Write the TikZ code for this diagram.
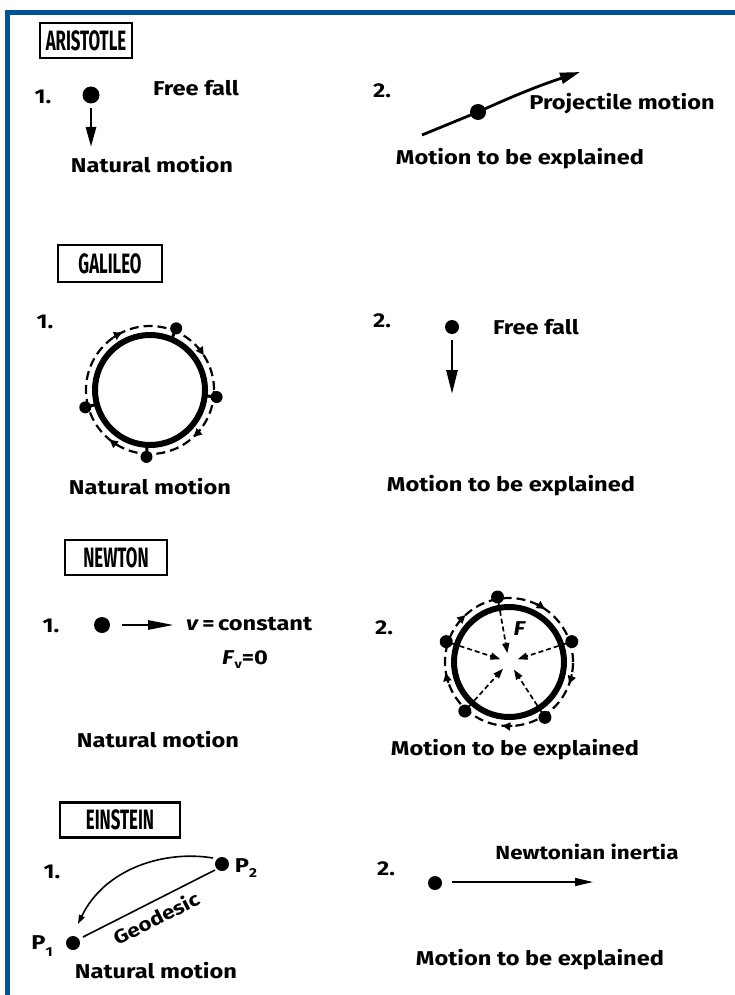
\documentclass[tikz,border=0pt]{standalone}
\usepackage{fontspec}
\usepackage{graphicx}
\setmainfont{Fira Sans}
\newfontfamily\handfont[FakeStretch=1.18]{Fira Sans}
\newfontfamily\boxfont[FakeStretch=0.6]{Fira Sans}
\usetikzlibrary{arrows.meta,calc}
\definecolor{frameblue}{RGB}{0,84,150}
\begin{document}
\begin{tikzpicture}[x=1pt,y=1pt,
  txt/.style={inner sep=0pt, font=\handfont\bfseries\fontsize{20}{23}\selectfont},
  smalltxt/.style={inner sep=0pt, font=\handfont\bfseries\fontsize{19}{22}\selectfont},
  titlebox/.style={draw, line width=2.2pt, inner sep=0pt, font=\boxfont\bfseries\fontsize{28}{30}\selectfont},
  bigdot/.style={circle, fill, inner sep=0pt, minimum size=17pt},
  dot/.style={circle, fill, inner sep=0pt, minimum size=14pt},
  cdot/.style={circle, fill, inner sep=0pt, minimum size=12pt},
  heavy/.style={line width=2.8pt},
  bighead/.style={-{Triangle[length=20pt,width=10pt]}},
  ringsolid/.style={line width=6pt},
  ringdash/.style={line width=2.2pt, dash pattern=on 9pt off 5pt},
  ringhead/.style={line width=2pt, -{Triangle[length=8pt,width=8pt]}},
  force/.style={line width=1.7pt, dash pattern=on 5pt off 3pt, -{Triangle[length=10pt,width=7pt]}},
]
\useasboundingbox (0,0) rectangle (734,-995);
\fill[white] (0,0) rectangle (734,-995);
\draw[frameblue, line width=5pt] (7,-995) -- (7,-12.5) -- (736,-12.5);

% ---------------- ARISTOTLE ----------------
\node[titlebox, minimum width=92pt, minimum height=35pt] (tA) at (86,-40.5) {ARISTOTLE};
\node[txt] (a1n) at (43,-97) {1.};
\node[bigdot] (a1d) at (91,-95) {};
\coordinate (a1e) at (91,-147);
\draw[heavy, bighead, shorten <=4pt] (a1d) -- (a1e);
\node[txt] (a1f) at (196,-88) {Free fall};
\node[txt] (a1m) at (152,-165) {Natural motion};

\node[txt] (a2n) at (382,-91) {2.};
\coordinate (a2s) at (422,-135);
\node[dot, minimum size=16pt] (a2d) at (478,-112) {};
\coordinate (a2e) at (580,-72);
\draw[heavy] (a2s) -- (a2d.center);
\draw[heavy, -{Triangle[length=20pt,width=11pt]}] (a2d.center) to[bend left=3] (a2e);
\node[txt] (a2p) at (622,-104) {Projectile motion};
\node[txt] (a2m) at (520,-159) {Motion to be explained};

% ---------------- GALILEO ----------------
\node[titlebox, minimum width=104pt, minimum height=37pt] (tG) at (110,-263.5) {GALILEO};
\node[txt] (g1n) at (45,-322) {1.};
\coordinate (gc) at (150,-390);
\draw[ringsolid] (gc) circle[radius=55];
\draw[ringdash] (gc) circle[radius=64];
\foreach \a in {67,-6,-93,195}{
  \draw[line width=3pt] (gc) ++(\a:55) -- ++(\a:11);
  \node[cdot] at ($(gc)+(\a:67)$) {};
}
\foreach \a in {120,37,-43,-125}{
  \draw[ringhead] (gc) ++(\a+5:64) arc[start angle=\a+5, end angle=\a-4, radius=64];
}
\node[txt] (g1m) at (150,-487) {Natural motion};

\node[txt] (g2n) at (382,-321) {2.};
\node[dot] (g2d) at (452,-327) {};
\coordinate (g2e) at (452,-394);
\draw[heavy, -{Triangle[length=24pt,width=11pt]}, shorten <=6pt] (g2d) -- (g2e);
\node[txt] (g2f) at (536,-327) {Free fall};
\node[txt] (g2m) at (511,-486) {Motion to be explained};

% ---------------- NEWTON ----------------
\node[titlebox, minimum width=102pt, minimum height=35pt] (tN) at (116,-557.5) {NEWTON};
\node[txt] (n1n) at (51,-626) {1.};
\node[bigdot, minimum size=16pt] (n1d) at (102,-625) {};
\coordinate (n1s) at (122,-625);
\coordinate (n1e) at (174,-625);
\draw[heavy, -{Triangle[length=26pt,width=9pt]}] (n1s) -- (n1e);
\node[txt, anchor=west] (n1v) at (186,-624) {\textit{v}\,=\,constant};
\node[txt, anchor=west] (n1f) at (222,-660) {\textit{F}\raisebox{-4pt}{\fontsize{12}{12}\selectfont v}=0};
\node[txt] (n1m) at (158,-740) {Natural motion};

\node[txt] (n2n) at (384,-628) {2.};
\coordinate (nc) at (509,-662);
\draw[ringsolid] (nc) circle[radius=55];
\draw[ringdash] (nc) circle[radius=64];
\foreach \a in {100,18,-57,-132,162}{
  \node[cdot, minimum size=13pt] (nd\a) at ($(nc)+(\a:66)$) {};
  \draw[force] ($(nc)+(\a:60)$) -- ($(nc)+(\a:9)$);
}
\foreach \a in {60,-16,-92,194,137}{
  \draw[ringhead] (nc) ++(\a+5:64) arc[start angle=\a+5, end angle=\a-4, radius=64];
}
\node[txt] (nF) at (520,-629) {\textit{F}};
\node[txt] (n2m) at (515,-750) {Motion to be explained};

% ---------------- EINSTEIN ----------------
\node[titlebox, minimum width=120pt, minimum height=35pt] (tE) at (120,-820) {EINSTEIN};
\node[txt] (e1n) at (52,-872) {1.};
\node[dot] (p2) at (222,-864) {};
\node[txt] (p2l) at (246,-868) {P\raisebox{-5pt}{\fontsize{13}{13}\selectfont 2}};
\node[dot] (p1) at (73,-943) {};
\node[txt] (p1l) at (42,-946) {P\raisebox{-7pt}{\fontsize{13}{13}\selectfont 1}};
\coordinate (gs) at (83,-937);
\coordinate (ge) at (215,-870);
\draw[line width=1.6pt] (gs) -- (ge);
\coordinate (cs) at (213,-858);
\coordinate (ce) at (78,-924);
\draw[line width=1.6pt, -{Triangle[length=9pt,width=6pt]}] (cs) .. controls (165,-850) and (105,-868) .. (ce);
\node[smalltxt, rotate=27] (geo) at (156,-918) {Geodesic};
\node[txt] (e1m) at (156,-971) {Natural motion};

\node[txt] (e2n) at (386,-869) {2.};
\node[dot] (e2d) at (435,-883) {};
\coordinate (e2s) at (452,-882);
\coordinate (e2e) at (593,-882);
\draw[line width=1.3pt, -{Triangle[length=18pt,width=8pt]}] (e2s) -- (e2e);
\node[smalltxt] (e2i) at (587,-852) {Newtonian inertia};
\node[txt] (e2m) at (540,-960) {Motion to be explained};
\end{tikzpicture}
\end{document}
